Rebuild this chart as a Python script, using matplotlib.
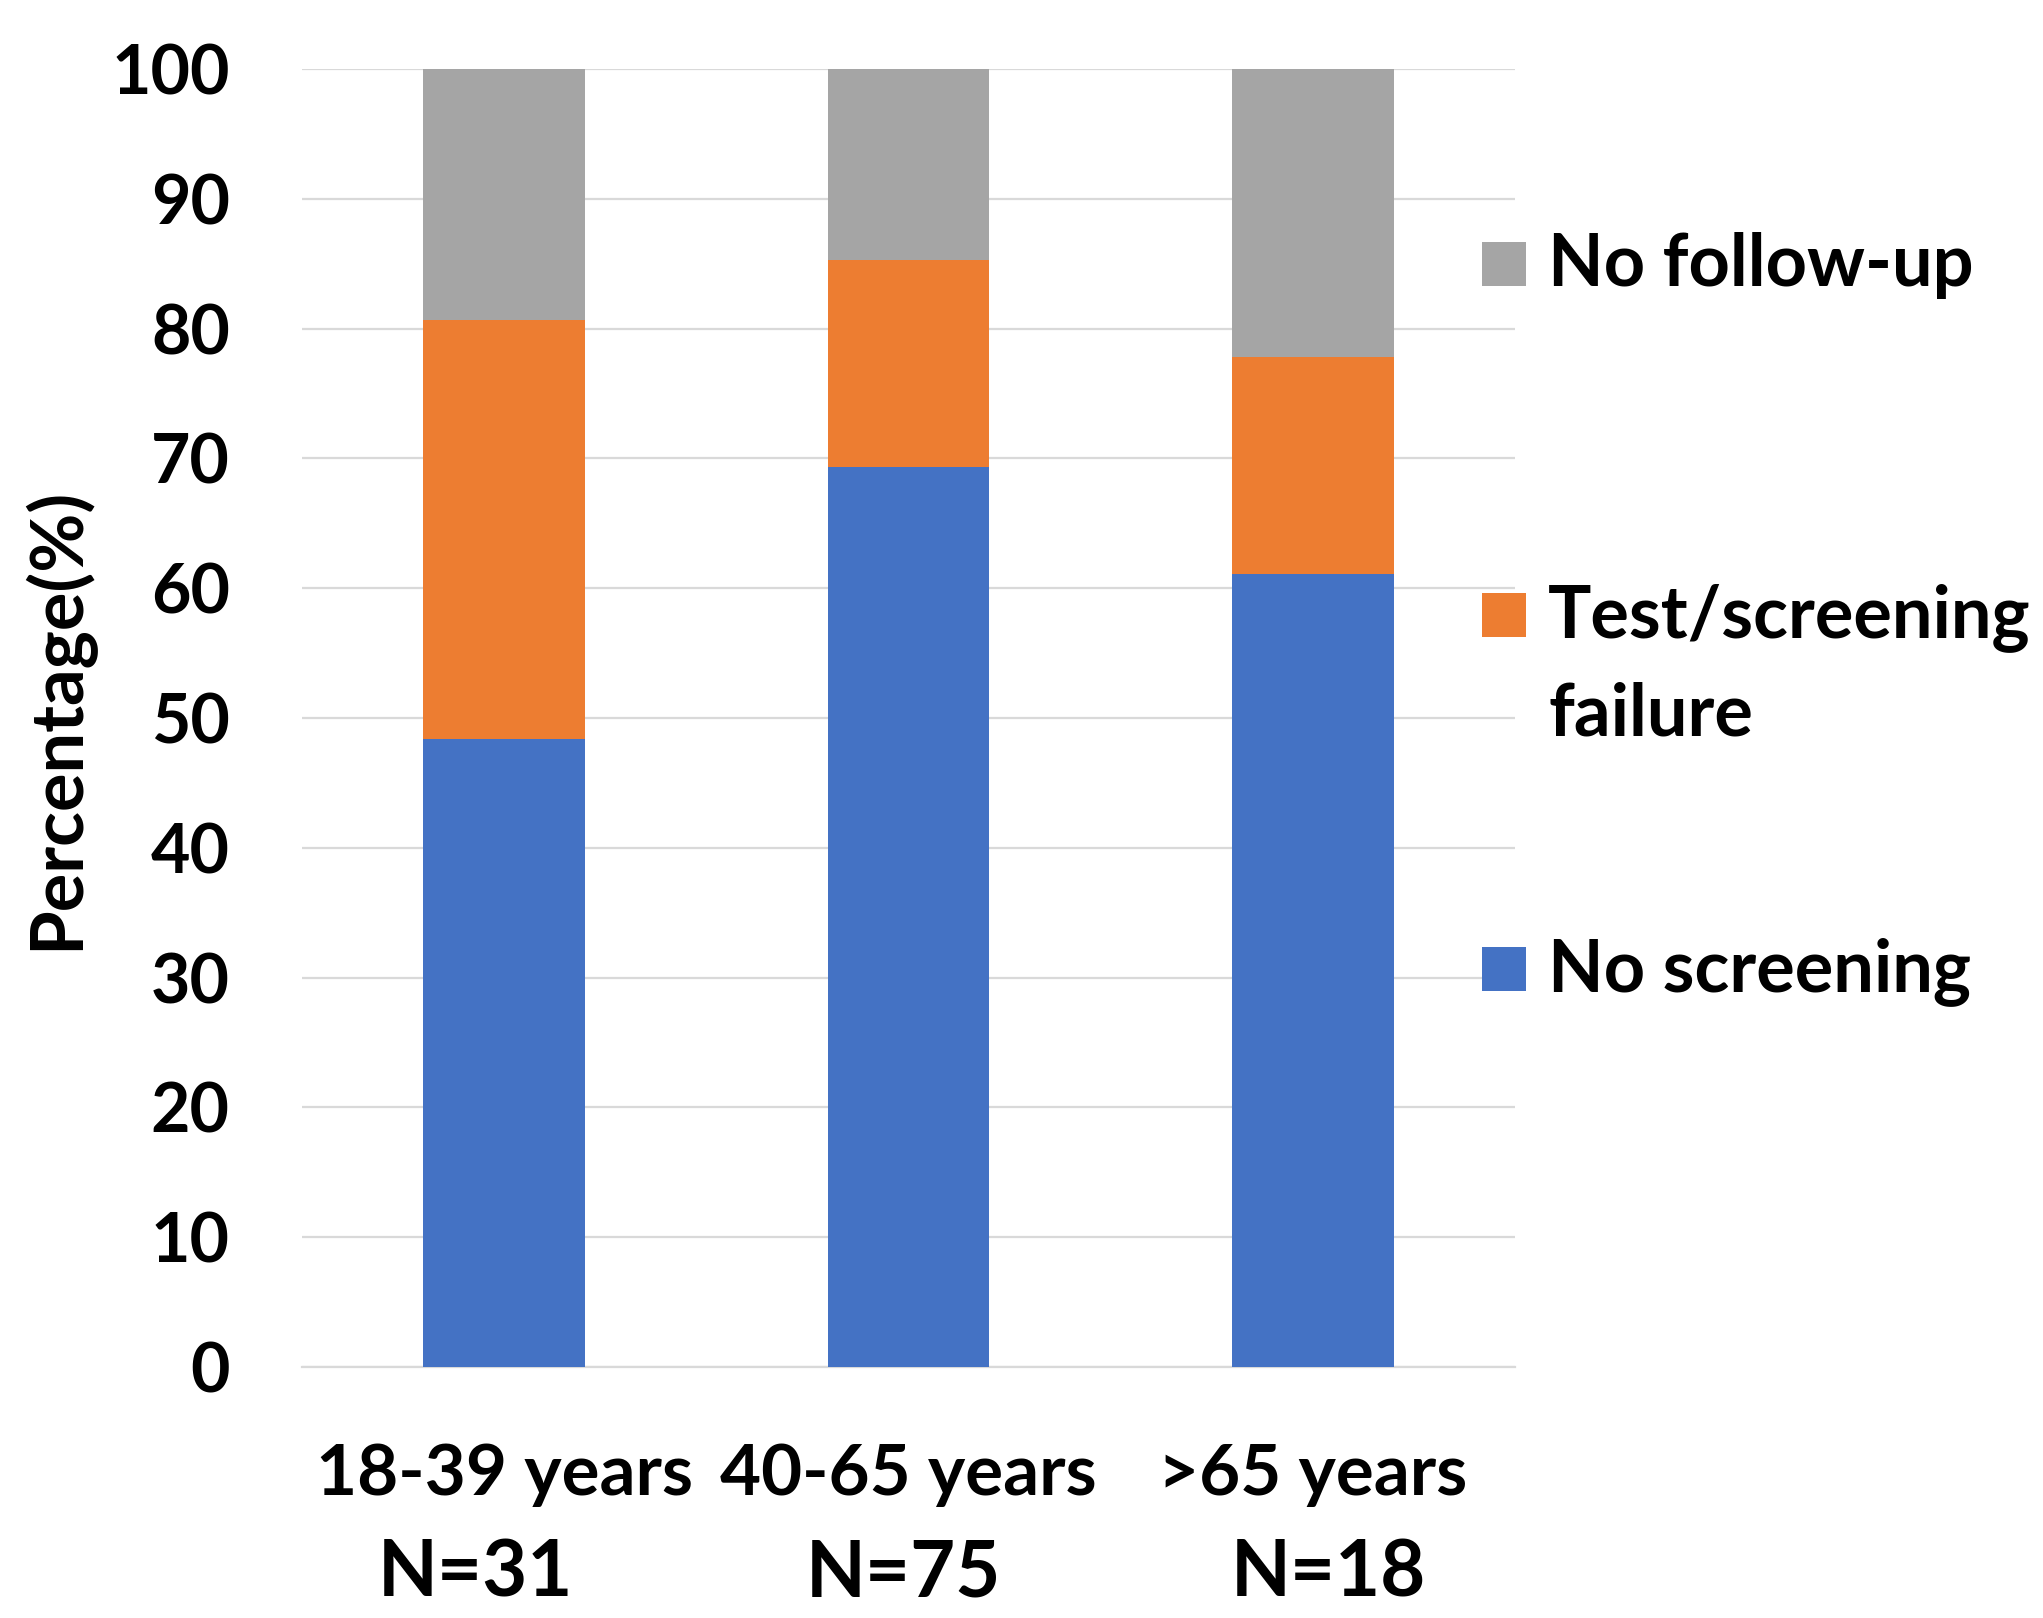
import matplotlib
matplotlib.use("Agg")
import matplotlib.pyplot as plt
from matplotlib.patches import Rectangle
import numpy as np

plt.rcParams['font.family'] = ['Lato', 'DejaVu Sans']
plt.rcParams['font.weight'] = 'bold'

# ---- data ----
age_groups = ["18-39 years", "40-65 years", ">65 years"]
group_n = ["N=31", "N=75", "N=18"]
series_names = ["No screening", "Test/screening\nfailure", "No follow-up"]
no_screening = [48.4, 69.3, 61.1]
test_failure = [32.3, 16.0, 16.7]
no_followup = [19.3, 14.7, 22.2]
colors = ["#4472C4", "#ED7D31", "#A5A5A5"]
y_ticks = [0, 10, 20, 30, 40, 50, 60, 70, 80, 90, 100]

W, H = 2043, 1618
fig = plt.figure(figsize=(W / 100, H / 100), dpi=100)
ax = fig.add_axes([302 / W, 1 - 1367 / H, 1213 / W, (1367 - 69) / H])

x = np.arange(len(age_groups))
series = [no_screening, test_failure, no_followup]
bottom = np.zeros(len(x))
for vals, c in zip(series, colors):
    ax.bar(x, vals, width=0.4, bottom=bottom, color=c, zorder=3, linewidth=0)
    bottom += np.array(vals)

ax.set_xlim(-0.5, 2.5)
ax.set_ylim(0, 100)
ax.set_yticks(y_ticks)
ax.set_yticklabels([str(t) for t in y_ticks], fontsize=49, fontweight='bold')
ax.yaxis.grid(True, color="#D9D9D9", linewidth=1.6, zorder=0)
ax.set_axisbelow(True)
for s in ["top", "right", "left"]:
    ax.spines[s].set_visible(False)
ax.spines["bottom"].set_color("#D9D9D9")
ax.spines["bottom"].set_linewidth(1.6)
ax.tick_params(axis="y", length=0, pad=52)
ax.tick_params(axis="x", length=0, pad=54)
ax.set_xticks(x)
ax.set_xticklabels(age_groups, fontsize=51, fontweight='bold')

# second line of the category labels (slightly off-centre as in the source)
n_offsets_pt = [-21, -4, 11]
for xi, n, off in zip(x, group_n, n_offsets_pt):
    ax.annotate(n, xy=(xi, -0.1595), xycoords=ax.get_xaxis_transform(),
                xytext=(off, 0), textcoords="offset points",
                ha="center", va="center", fontsize=56, fontweight="bold",
                annotation_clip=False)

ax.set_ylabel("Percentage(%)", fontsize=52, fontweight="bold")
ax.yaxis.set_label_coords(-(302 - 93) / 1213, 0.5)

# ---- legend (drawn in figure pixel coords) ----
leg_baseline = [991, 637, 285.7]  # first-line baselines, same order as series_names
line_step = 99  # px between legend text lines
for name, c, yb in zip(series_names, colors, leg_baseline):
    fig.add_artist(Rectangle((1482 / W, 1 - yb / H), 44 / W, 44 / H,
                             transform=fig.transFigure, color=c, linewidth=0))
    lines = name.split("\n")
    for i, ln in enumerate(lines):
        fig.text(1548 / W, 1 - (yb + i * line_step) / H, ln, ha="left",
                 va="baseline", fontsize=52, fontweight="bold")

fig.savefig("out.png", dpi=100, facecolor="white")
